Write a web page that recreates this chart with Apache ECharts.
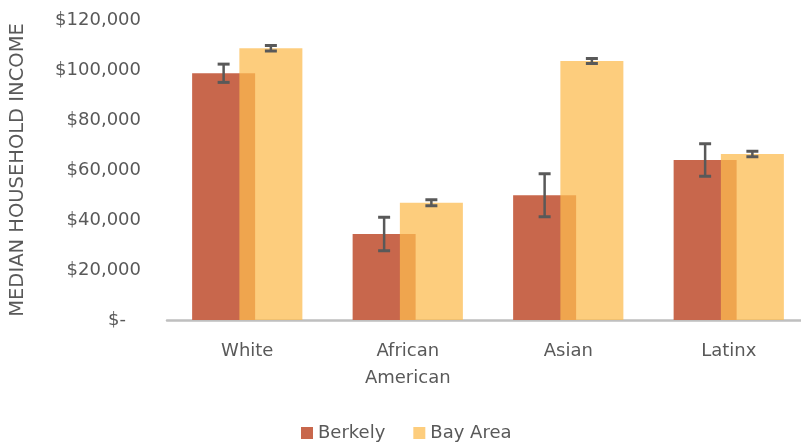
<!DOCTYPE html>
<html>
<head>
<meta charset="utf-8">
<script src="https://cdn.jsdelivr.net/npm/echarts@6/dist/echarts.min.js"></script>
<style>
html,body{margin:0;padding:0;background:#fff;overflow:hidden;width:801px;height:442px;}
#c{width:809px;height:442px;}
</style>
</head>
<body>
<div id="c"></div>
<script>
const categories = ['White', 'African\nAmerican', 'Asian', 'Latinx'];
const seriesNames = ['Berkely', 'Bay Area'];
const berkelyValues = [98700, 34400, 49900, 64000];
const berkelyErrors = [3650, 6700, 8600, 6500];
const bayAreaValues = [108700, 46900, 103600, 66400];
const bayAreaErrors = [1100, 1200, 1000, 1100];
const yTicks = [0, 20000, 40000, 60000, 80000, 100000, 120000];

const FONT = 'DejaVu Sans';
const TEXT = '#595959';
const BAR_W = 63;
const BAR_GAP = -0.25;
const GROUP_W = BAR_W * 2 + BAR_W * BAR_GAP;
const OFFSETS = [-(GROUP_W / 2) + BAR_W / 2, (GROUP_W / 2) - BAR_W / 2];

function errData(vals, errs) {
  return vals.map((v, i) => [i, v, errs[i]]);
}
function errRender(offset) {
  return function (params, api) {
    const i = api.value(0), v = api.value(1), e = api.value(2);
    const top = api.coord([i, v + e]);
    const bot = api.coord([i, v - e]);
    const x = top[0] + offset;
    const cap = 6;
    return {
      type: 'group',
      children: [
        { type: 'line', shape: { x1: x, y1: top[1], x2: x, y2: bot[1] }, style: { stroke: '#595959', lineWidth: 2.5 } },
        { type: 'line', shape: { x1: x - cap, y1: top[1], x2: x + cap, y2: top[1] }, style: { stroke: '#595959', lineWidth: 3 } },
        { type: 'line', shape: { x1: x - cap, y1: bot[1], x2: x + cap, y2: bot[1] }, style: { stroke: '#595959', lineWidth: 3 } }
      ]
    };
  };
}

const chart = echarts.init(document.getElementById('c'), null, { renderer: 'canvas' });
chart.setOption({
  animation: false,
  backgroundColor: '#ffffff',
  textStyle: { fontFamily: FONT },
  grid: { left: 164.5, top: 20, height: 300, right: 0, containLabel: false },
  legend: {
    data: seriesNames,
    left: 301,
    top: 424,
    padding: 0,
    itemWidth: 12,
    itemHeight: 12,
    itemGap: 28,
    icon: 'rect',
    textStyle: { fontFamily: FONT, fontSize: 18, color: TEXT }
  },
  xAxis: {
    type: 'category',
    data: categories,
    axisTick: { show: false },
    axisLine: { lineStyle: { color: '#bfbfbf', width: 2.5 } },
    axisLabel: { fontFamily: FONT, fontSize: 18, color: TEXT, margin: 18, lineHeight: 27 }
  },
  yAxis: {
    type: 'value',
    min: 0,
    max: 120000,
    interval: 20000,
    name: 'MEDIAN HOUSEHOLD INCOME',
    nameLocation: 'middle',
    nameRotate: 90,
    nameGap: 139,
    nameTextStyle: { fontFamily: FONT, fontSize: 19.5, color: TEXT },
    axisLine: { show: false },
    axisTick: { show: false },
    splitLine: { show: false },
    axisLabel: {
      fontFamily: FONT, fontSize: 18, color: TEXT, margin: 26,
      formatter: function (v) {
        if (yTicks.indexOf(v) < 0) return '';
        if (v === 0) return '{z|$-}';
        return '$' + v.toLocaleString('en-US');
      },
      rich: { z: { fontFamily: FONT, fontSize: 18, color: TEXT, padding: [0, 15, 0, 0] } }
    }
  },
  series: [
    {
      name: seriesNames[0], type: 'bar', data: berkelyValues,
      barWidth: BAR_W, barGap: (BAR_GAP * 100) + '%',
      itemStyle: { color: '#C8674C' }, z: 2
    },
    {
      name: seriesNames[1], type: 'bar', data: bayAreaValues,
      barWidth: BAR_W, barGap: (BAR_GAP * 100) + '%',
      itemStyle: { color: 'rgba(252,188,80,0.74)' }, z: 3
    },
    {
      type: 'custom', name: 'errB', data: errData(berkelyValues, berkelyErrors),
      renderItem: errRender(OFFSETS[0]), z: 10, silent: true,
      encode: { x: 0, y: [1] }
    },
    {
      type: 'custom', name: 'errA', data: errData(bayAreaValues, bayAreaErrors),
      renderItem: errRender(OFFSETS[1]), z: 10, silent: true,
      encode: { x: 0, y: [1] }
    }
  ]
});
</script>
</body>
</html>
